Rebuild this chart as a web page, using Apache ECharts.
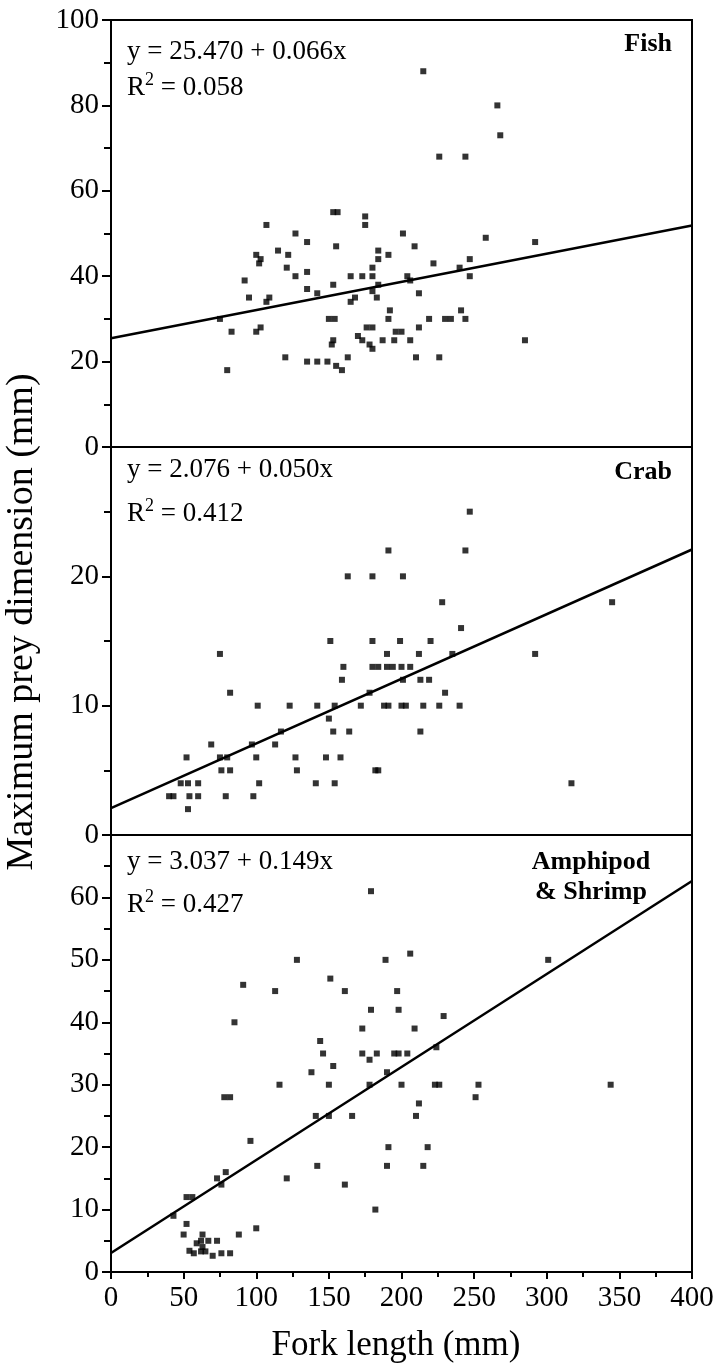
<!DOCTYPE html>
<html>
<head>
<meta charset="utf-8">
<script src="https://cdn.jsdelivr.net/npm/echarts@6/dist/echarts.min.js"></script>
<style>
  html, body { margin: 0; padding: 0; background: #fff; }
  #chart { width: 714px; height: 1368px; }
</style>
</head>
<body>
<div id="chart"></div>
<script>
// Prey categories, one panel each (top to bottom)
const panelNames = ['Fish', 'Crab', 'Amphipod\n& Shrimp'];

// Fitted regressions: y = a + b x
const intercepts = [25.470, 2.076, 3.037];
const slopes = [0.066, 0.050, 0.149];
const rSquared = ['0.058', '0.412', '0.427'];

// Y ranges and label steps for each panel
const yMax = [100, 30, 70];
const yStep = [20, 10, 10];

// X axis: fork length (mm)
const xMax = 400;
const xStep = 50;

// Observations: [fork length (mm), maximum prey dimension (mm)]
const fishPoints = [
  [215, 88], [266, 80], [268, 73], [226, 68], [244, 68], [153, 55], [156, 55],
  [175, 54], [175, 52], [107, 52], [201, 50], [258, 49], [292, 48], [127, 50],
  [135, 48], [155, 47], [209, 47], [115, 46], [122, 45], [184, 46], [191, 45],
  [184, 44], [100, 45], [103, 44], [102, 43], [247, 44], [222, 43], [121, 42],
  [180, 42], [240, 42], [135, 41], [127, 40], [165, 40], [173, 40], [180, 40],
  [204, 40], [247, 40], [92, 39], [153, 38], [184, 38], [206, 39], [135, 37],
  [142, 36], [180, 36.5], [212, 36], [95, 35], [109, 35], [107, 34], [168, 35],
  [165, 34], [183, 35], [192, 32], [241, 32], [150, 30], [154, 30], [191, 30],
  [219, 30], [230, 30], [234, 30], [244, 30], [75, 30], [83, 27], [100, 27],
  [103, 28], [176, 28], [180, 28], [196, 27], [200, 27], [212, 28], [170, 26],
  [173, 25], [178, 24], [180, 23], [187, 25], [195, 25], [206, 25], [285, 25],
  [152, 24], [153, 25], [120, 21], [135, 20], [142, 20], [149, 20], [155, 19],
  [159, 18], [163, 21], [210, 21], [226, 21], [80, 18]
];

const crabPoints = [
  [247, 25], [191, 22], [244, 22], [163, 20], [180, 20], [201, 20], [228, 18],
  [345, 18], [241, 16], [151, 15], [180, 15], [199, 15], [220, 15], [75, 14],
  [190, 14], [212, 14], [235, 14], [292, 14], [160, 13], [180, 13], [184, 13],
  [190, 13], [194, 13], [200, 13], [206, 13], [159, 12], [201, 12], [213, 12],
  [219, 12], [82, 11], [178, 11], [230, 11], [101, 10], [123, 10], [142, 10],
  [154, 10], [172, 10], [188, 10], [191, 10], [200, 10], [203, 10], [215, 10],
  [226, 10], [240, 10], [150, 9], [117, 8], [153, 8], [164, 8], [213, 8],
  [69, 7], [97, 7], [113, 7], [52, 6], [75, 6], [80, 6], [100, 6], [127, 6],
  [148, 6], [158, 6], [76, 5], [82, 5], [128, 5], [182, 5], [184, 5], [48, 4],
  [53, 4], [60, 4], [102, 4], [141, 4], [154, 4], [317, 4], [40, 3], [43, 3],
  [54, 3], [60, 3], [79, 3], [98, 3], [53, 2]
];

const shrimpPoints = [
  [179, 61], [301, 50], [128, 50], [189, 50], [206, 51], [91, 46], [151, 47],
  [113, 45], [161, 45], [197, 45], [179, 42], [198, 42], [229, 41], [85, 40],
  [173, 39], [209, 39], [144, 37], [146, 35], [173, 35], [183, 35], [195, 35],
  [198, 35], [204, 35], [178, 34], [224, 36], [153, 33], [138, 32], [190, 32],
  [116, 30], [150, 30], [178, 30], [200, 30], [223, 30], [226, 30], [253, 30],
  [344, 30], [251, 28], [78, 28], [82, 28], [212, 27], [210, 25], [141, 25],
  [150, 25], [166, 25], [96, 21], [191, 20], [218, 20], [142, 17], [190, 17],
  [215, 17], [121, 15], [161, 14], [73, 15], [76, 14], [79, 16], [52, 12],
  [56, 12], [43, 9], [182, 10], [52, 7.7], [100, 7], [50, 6], [63, 6], [88, 6],
  [62, 5], [67, 5], [73, 5], [59, 4.6], [63, 4], [54, 3.4], [57, 3], [62, 3.3],
  [65, 3.3], [70, 2.6], [76, 3], [82, 3]
];

const panelPoints = [fishPoints, crabPoints, shrimpPoints];

const SERIF = '"Liberation Serif", "DejaVu Serif", serif';
const chart = echarts.init(document.getElementById('chart'), null, { renderer: 'canvas' });

// Panel frames (pixels)
const plotLeft = 111, plotWidth = 581;
const panelTop = [20, 447, 835];
const panelHeight = [427, 388, 437];

const grids = [], xAxes = [], yAxes = [], series = [];
for (let i = 0; i < 3; i++) {
  const isBottom = i === 2;
  grids.push({
    left: plotLeft, top: panelTop[i], width: plotWidth, height: panelHeight[i],
    containLabel: false, outerBoundsMode: 'none',
    show: true, borderColor: '#000', borderWidth: 2, backgroundColor: 'transparent'
  });
  xAxes.push({
    gridIndex: i, type: 'value', min: 0, max: xMax, interval: xStep,
    axisLine: { show: true, onZero: false, lineStyle: { color: '#000', width: 2 } },
    axisTick: { show: isBottom, inside: false, length: 7, lineStyle: { color: '#000', width: 2 } },
    minorTick: { show: isBottom, splitNumber: 2, length: 5, lineStyle: { color: '#000', width: 2 } },
    axisLabel: { show: isBottom, color: '#000', fontFamily: SERIF, fontSize: 29, margin: 12 },
    splitLine: { show: false }
  });
  yAxes.push({
    gridIndex: i, type: 'value', min: 0, max: yMax[i], interval: yStep[i],
    axisLine: { show: true, onZero: false, lineStyle: { color: '#000', width: 2 } },
    axisTick: { show: true, inside: false, length: 9, lineStyle: { color: '#000', width: 2 } },
    minorTick: { show: true, splitNumber: 2, length: 7, lineStyle: { color: '#000', width: 2 } },
    axisLabel: {
      color: '#000', fontFamily: SERIF, fontSize: 29, margin: 12,
      formatter: v => (i > 0 && v === yMax[i]) ? '' : String(v)
    },
    splitLine: { show: false }
  });
  series.push({
    type: 'scatter', xAxisIndex: i, yAxisIndex: i,
    symbol: 'rect', symbolSize: 6,
    itemStyle: { color: '#000' },
    data: panelPoints[i], silent: true
  });
  series.push({
    type: 'line', xAxisIndex: i, yAxisIndex: i,
    showSymbol: false, silent: true,
    lineStyle: { color: '#000', width: 2.5 },
    data: [[0, intercepts[i]], [xMax, intercepts[i] + slopes[i] * xMax]]
  });
}

// Equation, R-squared and prey labels
const eqY = [52, 470, 862];
const r2Y = [86, 512, 903];
const nameY = [44, 472, 877];
const graphics = [];
for (let i = 0; i < 3; i++) {
  graphics.push({
    type: 'text', x: 127, y: eqY[i],
    style: {
      text: 'y = ' + intercepts[i].toFixed(3) + ' + ' + slopes[i].toFixed(3) + 'x',
      font: '27px ' + SERIF, fill: '#000', align: 'left', verticalAlign: 'middle'
    }
  });
  graphics.push({
    type: 'text', x: 127, y: r2Y[i],
    style: {
      text: '{r|R}{s|2}{r| = ' + rSquared[i] + '}',
      fill: '#000', align: 'left', verticalAlign: 'middle',
      rich: {
        r: { font: '27px ' + SERIF, fill: '#000', lineHeight: 30, verticalAlign: 'bottom' },
        s: { font: '18px ' + SERIF, fill: '#000', lineHeight: 30, verticalAlign: 'top' }
      }
    }
  });
  const multi = panelNames[i].indexOf('\n') >= 0;
  graphics.push({
    type: 'text', x: multi ? 591 : 672, y: nameY[i],
    style: {
      text: panelNames[i],
      font: 'bold 26px ' + SERIF, fill: '#000',
      align: multi ? 'center' : 'right', verticalAlign: 'middle', lineHeight: 30
    }
  });
}

// Axis titles
graphics.push({
  type: 'text', x: 396, y: 1346,
  style: { text: 'Fork length (mm)', font: '35px ' + SERIF, fill: '#000', align: 'center', verticalAlign: 'middle' }
});
graphics.push({
  type: 'text', x: 22, y: 622, rotation: Math.PI / 2,
  style: { text: 'Maximum prey dimension (mm)', font: '38px ' + SERIF, fill: '#000', align: 'center', verticalAlign: 'middle' }
});

chart.setOption({
  backgroundColor: '#fff',
  animation: false,
  grid: grids,
  xAxis: xAxes,
  yAxis: yAxes,
  series: series,
  graphic: graphics
});
</script>
</body>
</html>
